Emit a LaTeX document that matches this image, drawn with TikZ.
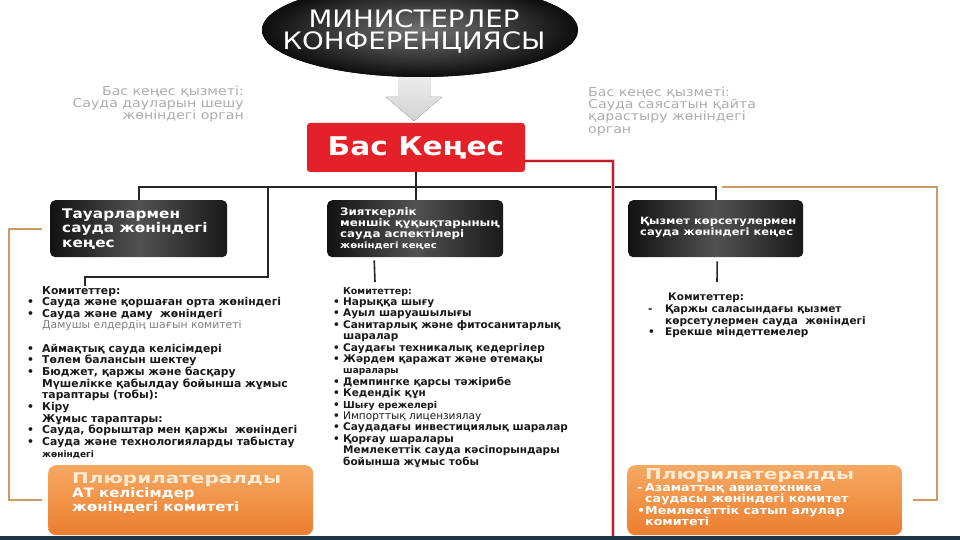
\documentclass[tikz,border=0pt]{standalone}
\usepackage{fontspec}
\setmainfont{DejaVu Sans}
\newfontfamily\widefont[FakeStretch=1.15]{DejaVu Sans}
\newfontfamily\pluriwidefont[FakeStretch=1.35]{DejaVu Sans}
\usetikzlibrary{positioning}

\definecolor{councilred}{RGB}{228,32,40}
\definecolor{linkred}{RGB}{190,30,40}
\definecolor{bracketbrown}{RGB}{204,154,104}
\definecolor{notegray}{RGB}{172,172,172}
\definecolor{listblack}{RGB}{25,25,25}
\definecolor{orangelight}{RGB}{246,168,98}
\definecolor{orangedark}{RGB}{236,126,46}
\definecolor{plurititle}{RGB}{253,236,214}
\definecolor{stripblue}{RGB}{28,54,70}

\newlength{\bulwidth}
\newcommand{\bul}{\makebox[\bulwidth][l]{•}}
\newcommand{\dbul}{\makebox[\bulwidth][l]{-}}
\newcommand{\nobul}{\hspace*{\bulwidth}}

\tikzset{
  darkbox/.style={rounded corners=5pt, left color=black!93, right color=black!90, middle color=black!68, minimum height=57pt, anchor=north west, inner sep=0pt},
  boxtext/.style={text=white, align=left, anchor=west, inner sep=0pt},
  link/.style={line width=1.6pt, black!85},
  redlink/.style={line width=1.6pt, linkred},
  bracket/.style={line width=2pt, bracketbrown},
  listtext/.style={text=listblack, align=left, anchor=north west, inner sep=0pt},
  note/.style={text=notegray, inner sep=0pt, font={\widefont\fontsize{12.3}{12.2}\selectfont}},
  pluribox/.style={rounded corners=8pt, top color=orangelight, bottom color=orangedark, minimum height=70pt, anchor=north west, inner sep=0pt},
  plurititle/.style={anchor=west, inner sep=0pt, text=plurititle, font={\pluriwidefont\bfseries\fontsize{14.8}{16}\selectfont}}
}

\begin{document}
\begin{tikzpicture}[x=1pt,y=-1pt]
  \useasboundingbox (0,0) rectangle (960,540);

  % Bottom strip
  \fill[stripblue] (0,536) rectangle (960,540);

  % Grey arrow and ministerial conference
  \fill[top color=gray!12, bottom color=gray!35] (398,70) -- (398,97) -- (386,97) -- (414,121) -- (442,97) -- (430,97) -- (430,70) -- cycle;
  \fill[inner color=black!55, outer color=black!95] (420,30) ellipse [x radius=158, y radius=47];
  \node[text=white, align=center, font={\widefont\fontsize{24}{22}\selectfont}] (conf) at (414,31.5) {МИНИСТЕРЛЕР\\КОНФЕРЕНЦИЯСЫ};

  % General council
  \node[fill=councilred, rounded corners=3pt, minimum width=218pt, minimum height=49pt, text=white, font={\widefont\bfseries\fontsize{25.8}{28}\selectfont}] (council) at (416,147.5) {Бас Кеңес};

  % Notes beside the council
  \node[note, anchor=north east, align=right] (noteleft) at (244,86) {Бас кеңес қызметі:\\Сауда дауларын шешу\\жөніндегі орган};
  \node[note, anchor=north west, align=left] (noteright) at (588,87) {Бас кеңес қызметі:\\Сауда саясатын қайта\\қарастыру жөніндегі\\орган};

  % Three councils
  \node[darkbox, minimum width=177pt] (goods) at (50,200) {};
  \node[boxtext, font={\widefont\bfseries\fontsize{13.3}{14.5}\selectfont}] (goodstext) at ([xshift=12pt]goods.west) {Тауарлармен\\сауда жөніндегі\\кеңес};
  \node[darkbox, minimum width=176pt] (trips) at (327,200) {};
  \node[boxtext, font={\widefont\bfseries\fontsize{10.3}{11}\selectfont}] (tripstext) at ([xshift=13pt]trips.west) {Зияткерлік\\меншік құқықтарының\\сауда аспектілері\\{\fontsize{8.8}{11}\selectfont жөніндегі кеңес}};
  \node[darkbox, minimum width=175pt] (services) at (628,200) {};
  \node[boxtext, font={\widefont\bfseries\fontsize{10}{11}\selectfont}] (servicestext) at ([xshift=12pt,yshift=1pt]services.west) {Қызмет көрсетулермен\\сауда жөніндегі кеңес};

  % Links from the council
  \coordinate (bar) at (0,187);
  \draw[link] (goods.north) -- (goods.north |- bar) -- (services.north |- bar) -- (services.north);
  \draw[link] (council.south) -- (council.south |- trips.north);
  \coordinate (goodsdrop) at (268,187);
  \coordinate (goodslist) at (85,286);
  \draw[link] (goodsdrop) |- (85,277) -- (goodslist);
  \coordinate (tripslist) at (375,282);
  \draw[link] ([xshift=-41pt,yshift=-3pt]trips.south) -- (tripslist);
  \coordinate (serviceslist) at (717,282);
  \draw[link] ([xshift=1.5pt,yshift=-4pt]services.south) -- (serviceslist);

  % Red link
  \coordinate (redend) at (613,536);
  \draw[linkred!25, line width=4.5pt] ([yshift=-13.5pt]council.east) -| (redend);
  \draw[redlink] ([yshift=-13.5pt]council.east) -| (redend);

  % Committee lists
  \node[listtext, font={\bfseries\fontsize{10.8}{11.64}\selectfont\setlength{\bulwidth}{15pt}}] (goodscomm) at (27,286) {%
    \nobul Комитеттер:\\
    \bul Сауда және қоршаған орта жөніндегі\\
    \bul Сауда және даму\ \ жөніндегі\\
    \nobul{\color{gray}\mdseries Дамушы елдердің шағын комитеті}\\[11.64pt]
    \bul Аймақтық сауда келісімдері\\
    \bul Төлем балансын шектеу\\
    \bul Бюджет, қаржы және басқару\\
    \nobul Мүшелікке қабылдау бойынша жұмыс\\
    \nobul тараптары (тобы):\\
    \bul Кіру\\
    \nobul Жұмыс тараптары:\\
    \bul Сауда, борыштар мен қаржы\ \ жөніндегі\\
    \bul Сауда және технологияларды табыстау\\
    \nobul{\fontsize{9}{11.64}\selectfont жөніндегі}};
  \node[listtext, font={\bfseries\fontsize{10.5}{11.4}\selectfont\setlength{\bulwidth}{10pt}}] (tripscomm) at (333,287) {%
    \nobul{\fontsize{9.5}{11.4}\selectfont Комитеттер:}\\
    \bul Нарыққа шығу\\
    \bul Ауыл шаруашылығы\\
    \bul Санитарлық және фитосанитарлық\\
    \nobul шаралар\\
    \bul Саудағы техникалық кедергілер\\
    \bul Жәрдем қаражат және өтемақы\\
    \nobul{\fontsize{9}{11.4}\selectfont шаралары}\\
    \bul Демпингке қарсы тәжірибе\\
    \bul Кедендік құн\\
    \bul{\fontsize{9.5}{11.4}\selectfont Шығу ережелері}\\
    \bul{\mdseries Импорттық лицензиялау}\\
    \bul Саудадағы инвестициялық шаралар\\
    \bul Қорғау шаралары\\
    \nobul Мемлекеттік сауда кәсіпорындары\\
    \nobul бойынша жұмыс тобы};
  \node[listtext, font={\bfseries\fontsize{10.5}{11.7}\selectfont\setlength{\bulwidth}{17pt}}] (servicescomm) at (648,293) {%
    \hspace*{20pt}Комитеттер:\\
    \dbul Қаржы саласындағы қызмет\\
    \nobul көрсетулермен сауда\ \ жөніндегі\\
    \bul Ерекше міндеттемелер};

  % Plurilateral committees
  \node[pluribox, minimum width=265pt] (plurileft) at (48,465) {};
  \node[plurititle] (plurilefttitle) at (72,479.5) {Плюрилатералды};
  \node[anchor=north west, inner sep=0pt, text=white, align=left, font={\widefont\bfseries\fontsize{13}{14}\selectfont}] (plurilefttext) at (72,487.6) {АТ келісімдер\\жөніндегі комитеті};
  \node[pluribox, minimum width=275pt] (pluriright) at (627,465) {};
  \node[plurititle] (pluririghttitle) at (645,475.5) {Плюрилатералды};
  \node[anchor=north west, inner sep=0pt, text=white, align=left, font={\widefont\bfseries\fontsize{11}{10.4}\selectfont\setlength{\bulwidth}{8pt}}] (pluririghttext) at (637,483.7) {%
    \dbul Азаматтық авиатехника\\
    \nobul саудасы жөніндегі комитет\\
    \bul Мемлекеттік сатып алулар\\
    \nobul комитеті};

  % Orange brackets
  \draw[bracket] ([xshift=-8pt]goods.west) -- ++(-33,0) |- ([xshift=-6pt]plurileft.west);
  \coordinate (bracketstart) at (722,187);
  \draw[bracket] (bracketstart) -- (937,187) |- ([xshift=11pt]pluriright.east);

\end{tikzpicture}
\end{document}
